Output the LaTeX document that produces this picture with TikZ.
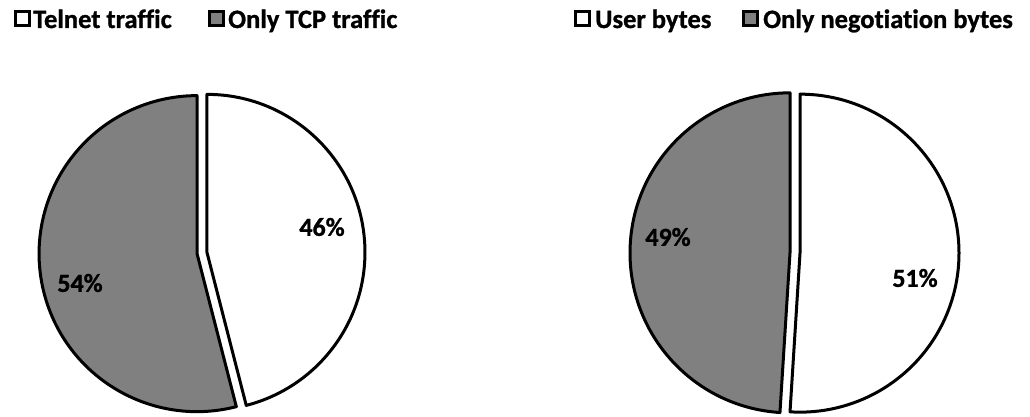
\documentclass[tikz,border=0pt]{standalone}
\usepackage{fontspec}
\setmainfont{Carlito}[Ligatures=NoCommon, BoldFeatures={FakeBold=1.0}]
\usetikzlibrary{calc}
\definecolor{slicegray}{HTML}{808080}
\tikzset{
  slice/.style={draw=black, line width=3pt, line join=round},
  legbox/.style={draw=black, line width=3pt, minimum width=13.5pt, minimum height=13.5pt, inner sep=0pt, anchor=south west},
  legtext/.style={font=\fontsize{26.5}{30}\selectfont\bfseries, inner sep=0pt, anchor=base west},
  pct/.style={font=\fontsize{26}{30}\selectfont\bfseries, inner sep=0pt},
}
\begin{document}
\begin{tikzpicture}[x=1pt,y=1pt]
\useasboundingbox (0,0) rectangle (1030,417);
% ---- left pie ----
\coordinate (lc) at (202,164);
\draw[slice, fill=white] ($(lc)+(4.96,0.63)$) -- ++(90:158) arc (90:-75.6:158) -- cycle;
\draw[slice, fill=slicegray] ($(lc)+(-4.96,-0.63)$) -- ++(-75.6:158) arc (-75.6:-270:158) -- cycle;
\node[pct] (l46) at (322,190) {46\%};
\node[pct] (l54) at (80,134) {54\%};
% ---- right pie ----
\coordinate (rc) at (795,164);
\draw[slice, fill=white] ($(rc)+(5,-0.16)$) -- ++(90:159) arc (90:-93.6:159) -- cycle;
\draw[slice, fill=slicegray] ($(rc)+(-5,0.16)$) -- ++(-93.6:160) arc (-93.6:-270:160) -- cycle;
\node[pct] (r49) at (668,180) {49\%};
\node[pct] (r51) at (915,139) {51\%};
% ---- legends ----
\node[legbox, fill=white] (lb1) at (14,390) {};
\node[legtext] (lt1) at (33,389) {Telnet traffic};
\node[legbox, fill=slicegray] (lb2) at (208,390) {};
\node[legtext] (lt2) at (228,389) {Only TCP traffic};
\node[legbox, fill=white] (rb1) at (574,390) {};
\node[legtext] (rt1) at (595,389) {User bytes};
\node[legbox, fill=slicegray] (rb2) at (742,390) {};
\node[legtext] (rt2) at (763,389) {Only negotiation bytes};
\end{tikzpicture}
\end{document}
